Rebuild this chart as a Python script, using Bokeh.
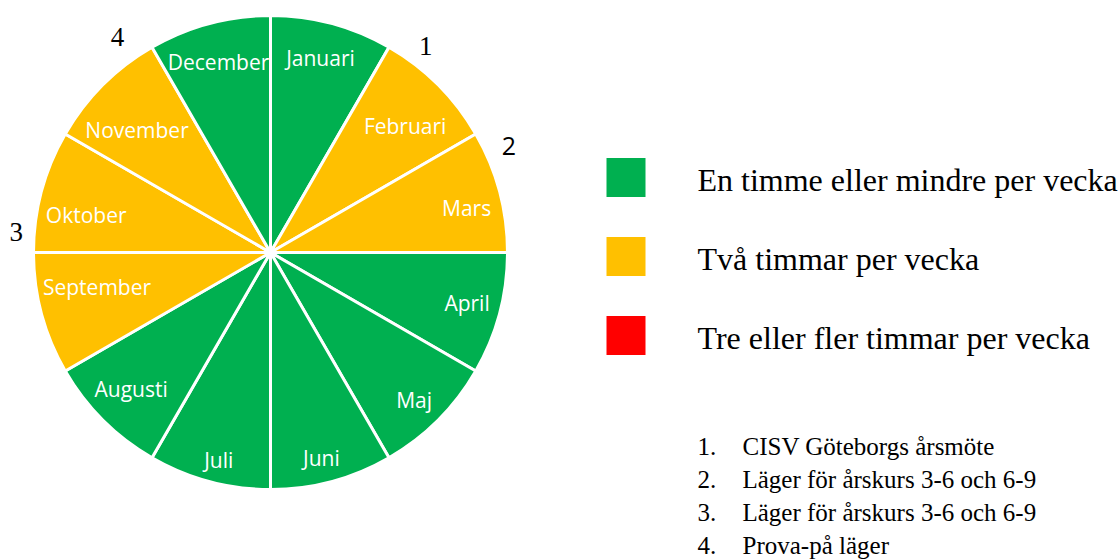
import math
from bokeh.plotting import figure
from bokeh.models import ColumnDataSource, Range1d
from bokeh.core.properties import value
from bokeh.embed import file_html
from bokeh.resources import INLINE

# ---------------- data ----------------
months = ["Januari", "Februari", "Mars", "April", "Maj", "Juni",
          "Juli", "Augusti", "September", "Oktober", "November", "December"]
month_level = [0, 1, 1, 0, 0, 0, 0, 0, 1, 1, 1, 0]   # index into legend
legend_labels = ["En timme eller mindre per vecka",
                 "Två timmar per vecka",
                 "Tre eller fler timmar per vecka"]
legend_colors = ["#00B050", "#FFC000", "#FF0000"]
event_numbers = ["1", "2", "3", "4"]
event_texts = ["CISV Göteborgs årsmöte",
               "Läger för årskurs 3-6 och 6-9",
               "Läger för årskurs 3-6 och 6-9",
               "Prova-på läger"]
event_months = ["Februari", "Mars", "Oktober", "November"]

# ---------------- layout ----------------
W, H = 1120, 559
CX, CY, R = 270, H - 252, 237
# label placement (polar, per slice): radius and angle shift in degrees
label_r = [201, 185, 201, 203, 206, 212, 214, 195, 177, 188, 181, 197]
label_da = [-0.6, 1.7, 2.3, -0.5, 0.8, 1.1, -1.0, 0.6, 3.6, -3.6, -2.5, -0.3]
# angular offset (deg) of the event marker from its month's start edge, and radius
marker_offset = [7, 6, 4.5, 24.6]
marker_r = [258, 261, 255, 264]
marker_fonts = ["Liberation Serif", "Open Sans", "Liberation Serif", "Liberation Serif"]

p = figure(width=W, height=H, x_range=Range1d(0, W), y_range=Range1d(0, H),
           x_axis_type=None, y_axis_type=None, output_backend="svg",
           toolbar_location=None, min_border=0)
p.outline_line_color = None
p.background_fill_color = "white"
p.border_fill_color = "white"

n = len(months)
step = 2 * math.pi / n
starts = [math.pi / 2 - i * step for i in range(n)]
ends = [math.pi / 2 - (i + 1) * step for i in range(n)]
mids = [(i + 0.5) * step + math.radians(d) for i, d in zip(range(n), label_da)]
colors = [legend_colors[l] for l in month_level]

pie_src = ColumnDataSource(dict(
    x=[CX] * n, y=[CY] * n, start=starts, end=ends, color=colors))
p.wedge(x="x", y="y", radius=R, start_angle="start", end_angle="end",
        direction="clock", fill_color="color", line_color="white",
        line_width=3, source=pie_src)

lab_src = ColumnDataSource(dict(
    x=[CX + r * math.sin(a) for a, r in zip(mids, label_r)],
    y=[CY + r * math.cos(a) for a, r in zip(mids, label_r)],
    text=months))
p.text(x="x", y="y", text="text", source=lab_src, text_align="center",
       text_baseline="middle", text_color="white",
       text_font=value("Open Sans"), text_font_size=value("21px"))

# event markers around the pie
for num, m, off, mr, f in zip(event_numbers, event_months, marker_offset,
                              marker_r, marker_fonts):
    i = months.index(m)
    a = math.radians(i * 30 + off)
    p.text(x=[CX + mr * math.sin(a)], y=[CY + mr * math.cos(a)],
           text=[num], text_align="center", text_baseline="middle",
           text_color="black", text_font=value(f),
           text_font_size=value("25px" if f == "Open Sans" else "27px"))

# legend
LEG_X0, LEG_SIZE, LEG_Y0, LEG_DY, LEG_TX = 606, 39, 177, 79, 697
rows_y = [H - (LEG_Y0 + k * LEG_DY) for k in range(len(legend_labels))]
p.quad(left=[LEG_X0] * 3, right=[LEG_X0 + LEG_SIZE] * 3,
       bottom=[y - LEG_SIZE / 2 for y in rows_y],
       top=[y + LEG_SIZE / 2 for y in rows_y],
       fill_color=legend_colors, line_color=None)
p.text(x=[LEG_TX] * 3, y=[y - 2 for y in rows_y], text=legend_labels,
       text_align="left", text_baseline="middle", text_color="black",
       text_font=value("Liberation Serif"), text_font_size=value("32px"))

# event list
EV_Y0, EV_DY, EV_NX, EV_TX = 446, 33, 697, 742
ev_y = [H - (EV_Y0 + k * EV_DY) for k in range(len(event_texts))]
p.text(x=[EV_NX] * 4, y=ev_y, text=[s + "." for s in event_numbers],
       text_align="left", text_baseline="middle", text_color="black",
       text_font=value("Liberation Serif"), text_font_size=value("25px"))
p.text(x=[EV_TX] * 4, y=ev_y, text=event_texts,
       text_align="left", text_baseline="middle", text_color="black",
       text_font=value("Liberation Serif"), text_font_size=value("25px"))

open("out.html", "w").write(file_html(p, INLINE))
